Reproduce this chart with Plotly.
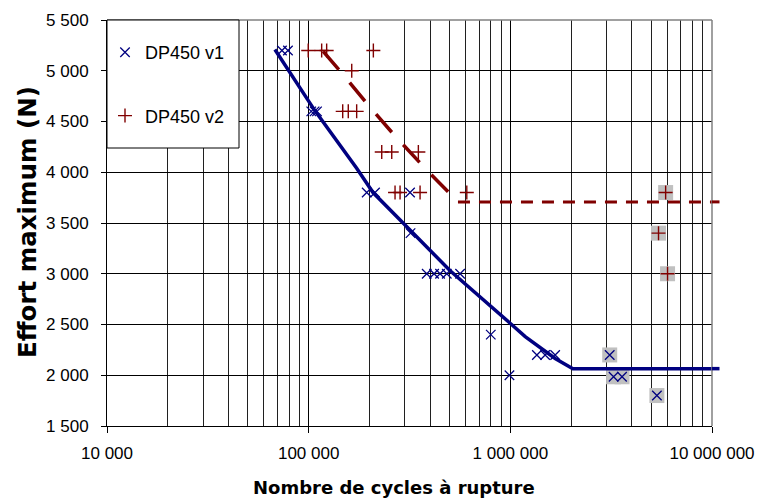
import plotly.graph_objects as go

# ---------------- data ----------------
v1_N = [73700, 78950, 103000, 107000, 110000, 194000, 213300, 318200, 320000,
        385000, 418700, 448300, 484000, 563500, 800000, 990000,
        1354000, 1488000, 1668000]
v1_F = [5200, 5200, 4600, 4600, 4600, 3800, 3800, 3800, 3400,
        3000, 3000, 3000, 3000, 3000, 2400, 2000,
        2200, 2200, 2200]
v1_runout_N = [3110000, 3250000, 3580000, 5330000]
v1_runout_F = [2200, 1985, 1985, 1800]

v2_N = [99500, 116000, 122800, 209300, 163500, 147500, 157200, 173000,
        230300, 258200, 349900, 268100, 283900, 356800, 608300]
v2_F = [5200, 5200, 5200, 5200, 5000, 4600, 4600, 4600,
        4200, 4200, 4200, 3800, 3800, 3800, 3800]
v2_runout_N = [5890000, 5430000, 6020000]
v2_runout_F = [3800, 3400, 3000]

curve1_N = [68000, 107500, 173000, 208500, 294800, 503000, 997700, 1185000,
            1668000, 2043000, 10000000]
curve1_F = [5210, 4605, 4040, 3800, 3497, 3030, 2512, 2380, 2165, 2065, 2065]

curve2_diag_N = [118000, 143000, 194000, 268100, 380800, 550000]
curve2_diag_F = [5190, 4998, 4679, 4357, 4032, 3708]
curve2_flat_N = [550000, 10000000]
curve2_flat_F = [3708, 3708]

x_tickvals = [1e4, 1e5, 1e6, 1e7]
x_ticktext = ["10 000", "100 000", "1 000 000", "10 000 000"]
x_minorvals = [m * 10 ** e for e in (4, 5, 6) for m in range(2, 10)]
y_tickvals = [1500, 2000, 2500, 3000, 3500, 4000, 4500, 5000, 5500]
y_ticktext = ["1 500", "2 000", "2 500", "3 000", "3 500", "4 000",
              "4 500", "5 000", "5 500"]

series_names = ["DP450 v1", "DP450 v2"]
x_title = "Nombre de cycles à rupture"
y_title = "Effort maximum (N)"

# ---------------- styling ----------------
BLUE = "#000080"
RED = "#800000"
GREY_BOX = "#c0c0c0"
FONT = "Liberation Sans, Arial, Helvetica, sans-serif"
TITLE_FONT = "DejaVu Sans, Liberation Sans, Arial, sans-serif"

W, H = 760, 501
PLOT_L, PLOT_R, PLOT_T, PLOT_B = 107, 712, 20, 426   # pixels
L, T, R, B = PLOT_L, PLOT_T, W - PLOT_R, H - PLOT_B
PW, PH = PLOT_R - PLOT_L, PLOT_B - PLOT_T


def px_x(px):
    return (px - PLOT_L) / PW


def px_y(py):
    return (PLOT_B - py) / PH


fig = go.Figure()

# grey background boxes for run-outs
fig.add_trace(go.Scatter(x=v1_runout_N, y=v1_runout_F, mode="markers",
                         marker=dict(symbol="square", size=15, color=GREY_BOX),
                         showlegend=False, hoverinfo="skip"))
fig.add_trace(go.Scatter(x=v2_runout_N, y=v2_runout_F, mode="markers",
                         marker=dict(symbol="square", size=15, color=GREY_BOX),
                         showlegend=False, hoverinfo="skip"))

# trend curves
fig.add_trace(go.Scatter(x=curve1_N, y=curve1_F, mode="lines",
                         line=dict(color=BLUE, width=3.5), showlegend=False))
fig.add_trace(go.Scatter(x=curve2_diag_N, y=curve2_diag_F, mode="lines",
                         line=dict(color=RED, width=3.5, dash="24px,17px"),
                         showlegend=False))
fig.add_trace(go.Scatter(x=curve2_flat_N, y=curve2_flat_F, mode="lines",
                         line=dict(color=RED, width=3, dash="12px,9px"),
                         showlegend=False))

# data points
fig.add_trace(go.Scatter(x=v1_N, y=v1_F, mode="markers", name=series_names[0],
                         legendgroup="a",
                         marker=dict(symbol="x-thin", size=9.5,
                                     line=dict(color=BLUE, width=1.3))))
fig.add_trace(go.Scatter(x=v1_runout_N, y=v1_runout_F, mode="markers",
                         legendgroup="a", showlegend=False,
                         marker=dict(symbol="x-thin", size=9.5,
                                     line=dict(color=BLUE, width=1.3))))
fig.add_trace(go.Scatter(x=v2_N, y=v2_F, mode="markers", name=series_names[1],
                         legendgroup="b",
                         marker=dict(symbol="cross-thin", size=10,
                                     line=dict(color=RED, width=1.4))))
fig.add_trace(go.Scatter(x=v2_runout_N, y=v2_runout_F, mode="markers",
                         legendgroup="b", showlegend=False,
                         marker=dict(symbol="cross-thin", size=10,
                                     line=dict(color=RED, width=1.4))))

shapes = [
    # top and right plot-area border (grey)
    dict(type="line", xref="paper", yref="paper", x0=0, x1=1, y0=1, y1=1,
         line=dict(color="#808080", width=1.5), layer="above"),
    dict(type="line", xref="paper", yref="paper", x0=1, x1=1, y0=0, y1=1,
         line=dict(color="#808080", width=1.5), layer="above"),
    # legend frame
    dict(type="rect", xref="paper", yref="paper", x0=px_x(107), x1=px_x(239),
         y0=px_y(148), y1=1, fillcolor="white",
         line=dict(color="black", width=1), layer="above"),
    # short overshoot of the trend lines past the plot area
    dict(type="line", xref="paper", yref="y", x0=1, x1=px_x(719.5),
         y0=curve1_F[-1], y1=curve1_F[-1], line=dict(color=BLUE, width=3.5)),
    dict(type="line", xref="paper", yref="y", x0=1, x1=px_x(719.5),
         y0=curve2_flat_F[-1], y1=curve2_flat_F[-1], line=dict(color=RED, width=3)),
]

annotations = [
    dict(text=x_title, xref="paper", yref="paper", x=px_x(394), y=px_y(488),
         showarrow=False,
         font=dict(family=TITLE_FONT, size=18, color="black", weight="bold"),
         xanchor="center", yanchor="middle"),
    dict(text=y_title, xref="paper", yref="paper", x=px_x(28), y=px_y(222),
         showarrow=False, textangle=-90,
         font=dict(family=TITLE_FONT, size=24.5, color="black", weight="bold"),
         xanchor="center", yanchor="middle"),
]

fig.update_layout(
    width=W, height=H,
    margin=dict(l=L, r=R, t=T, b=B, pad=0, autoexpand=False),
    paper_bgcolor="white", plot_bgcolor="white",
    font=dict(family=FONT, size=17, color="black"),
    showlegend=True,
    legend=dict(x=px_x(105), y=px_y(34), xanchor="left", yanchor="top",
                bgcolor="rgba(0,0,0,0)", borderwidth=0,
                traceorder="grouped", tracegroupgap=37,
                font=dict(family=FONT, size=18, color="black"),
                itemwidth=30),
    shapes=shapes,
    annotations=annotations,
)

fig.update_xaxes(
    type="log", range=[4, 7], automargin=False,
    tickvals=x_tickvals, ticktext=x_ticktext,
    ticks="outside", ticklen=6, tickcolor="black", tickwidth=1,
    showline=True, linecolor="black", linewidth=1,
    showgrid=True, gridcolor="black", gridwidth=1,
    minor=dict(tickvals=x_minorvals, showgrid=True, gridcolor="#202020",
               gridwidth=1, ticks=""),
    ticklabelstandoff=6,
    zeroline=False,
)
fig.update_yaxes(
    range=[1500, 5500], automargin=False,
    tickvals=y_tickvals, ticktext=y_ticktext,
    ticks="outside", ticklen=5, tickcolor="black", tickwidth=1,
    showline=True, linecolor="black", linewidth=1,
    showgrid=True, gridcolor="black", gridwidth=1,
    ticklabelstandoff=9,
    zeroline=False,
)

# remove the default page margin so the 760x501 figure fills the window exactly
fig.write_html(
    "out.html",
    config={"displayModeBar": False},
    post_script="document.body.style.margin='0';"
                "document.body.style.overflow='hidden';",
)
